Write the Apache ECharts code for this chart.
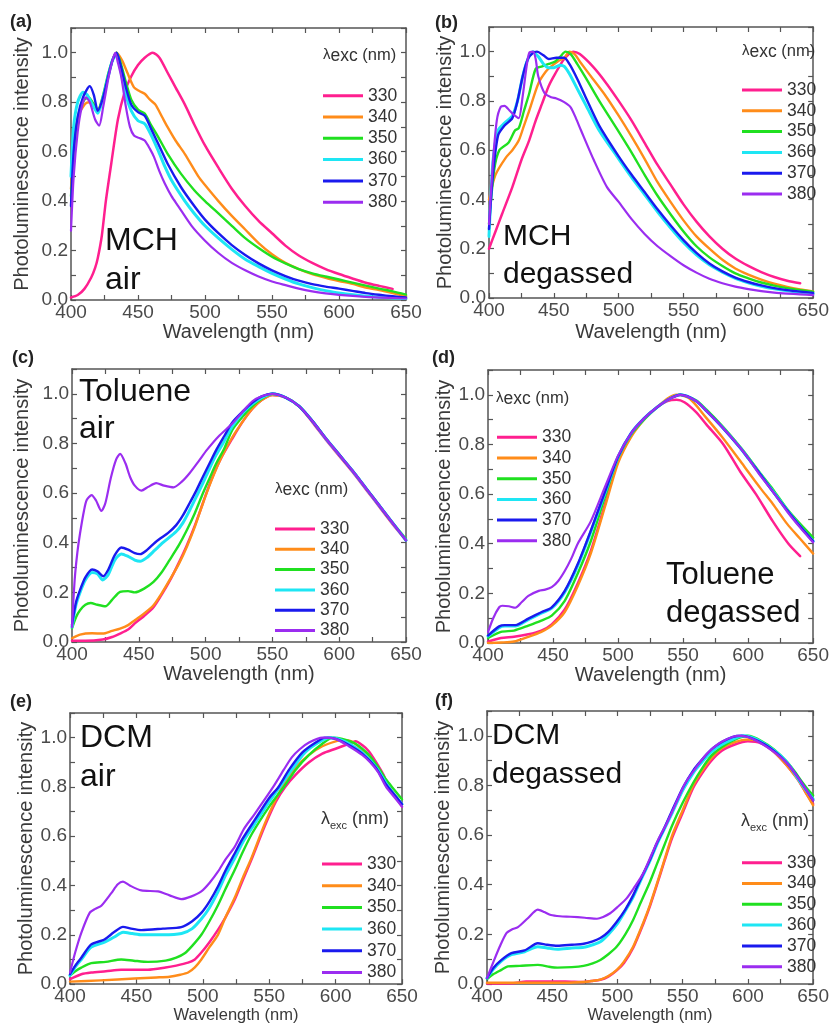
<!DOCTYPE html>
<html><head><meta charset="utf-8">
<script src="https://cdn.jsdelivr.net/npm/echarts@6/dist/echarts.min.js"></script>
<style>html,body{margin:0;padding:0;background:#fff}#c{width:832px;height:1025px}</style>
</head><body><div id="c"></div>
<script>
// ---------- tick labels / categories ----------
const EXC = ['330','340','350','360','370','380'];
const X_TICK_LABELS = [400,450,500,550,600,650];
const Y_TICK_LABELS = ['0.0','0.2','0.4','0.6','0.8','1.0'];

// ---------- (a) MCH air ----------
const a330 = [[400,0.01],[405,0.02],[410,0.045],[415,0.09],[418,0.13],[420,0.17],[423,0.26],[426,0.40],[430,0.55],[435,0.73],[440,0.84],[445,0.905],[450,0.95],[455,0.98],[461,1.0],[466,0.98],[472,0.92],[478,0.86],[485,0.79],[492,0.71],[500,0.625],[510,0.535],[520,0.45],[530,0.38],[540,0.32],[550,0.27],[560,0.22],[570,0.18],[580,0.15],[590,0.125],[600,0.105],[610,0.087],[620,0.07],[630,0.057],[640,0.045]];
const a340 = [[400,0.45],[403,0.65],[406,0.75],[410,0.79],[413,0.80],[416,0.79],[420,0.77],[424,0.82],[428,0.91],[431,0.97],[434,1.0],[438,0.97],[442,0.92],[447,0.86],[451,0.845],[455,0.834],[459,0.81],[463,0.79],[468,0.74],[472,0.70],[478,0.645],[485,0.59],[495,0.50],[500,0.465],[510,0.40],[520,0.34],[530,0.285],[540,0.23],[550,0.185],[560,0.15],[570,0.125],[580,0.105],[590,0.09],[600,0.077],[610,0.065],[620,0.05],[630,0.04],[640,0.028],[650,0.015]];
const a350 = [[400,0.42],[403,0.65],[406,0.76],[410,0.81],[413,0.82],[416,0.80],[420,0.77],[424,0.83],[428,0.92],[431,0.97],[434,1.0],[437,0.96],[441,0.88],[445,0.81],[450,0.77],[455,0.754],[460,0.705],[465,0.66],[472,0.592],[482,0.511],[492,0.444],[500,0.40],[510,0.35],[520,0.30],[530,0.25],[540,0.21],[550,0.175],[560,0.148],[570,0.125],[580,0.108],[590,0.095],[600,0.083],[610,0.07],[620,0.058],[630,0.046],[640,0.035],[650,0.022]];
const a360 = [[400,0.50],[402,0.70],[405,0.80],[409,0.84],[412,0.83],[416,0.79],[420,0.755],[424,0.82],[428,0.91],[431,0.97],[434,0.995],[437,0.93],[441,0.83],[445,0.765],[450,0.725],[455,0.713],[460,0.665],[465,0.605],[470,0.54],[475,0.484],[485,0.40],[492,0.35],[500,0.30],[510,0.25],[520,0.205],[530,0.165],[540,0.135],[550,0.108],[560,0.085],[570,0.065],[580,0.05],[590,0.038],[600,0.028],[620,0.015],[640,0.008],[650,0.006]];
const a370 = [[400,0.38],[402,0.60],[405,0.74],[409,0.82],[414,0.865],[417,0.83],[420,0.765],[424,0.82],[428,0.91],[431,0.97],[434,1.0],[437,0.95],[441,0.86],[445,0.79],[450,0.76],[455,0.745],[460,0.69],[465,0.633],[472,0.552],[482,0.457],[492,0.38],[500,0.325],[510,0.27],[520,0.222],[530,0.182],[540,0.148],[550,0.12],[560,0.097],[570,0.078],[580,0.064],[590,0.054],[600,0.046],[610,0.037],[620,0.028],[630,0.021],[640,0.015],[650,0.01]];
const a380 = [[400,0.28],[402,0.50],[405,0.68],[408,0.78],[411,0.82],[414,0.80],[418,0.73],[421,0.705],[424,0.78],[428,0.90],[431,0.97],[433,1.0],[435,0.96],[437.6,0.90],[441,0.78],[444,0.70],[447,0.665],[451,0.655],[455,0.645],[459,0.61],[462,0.578],[466,0.52],[470,0.471],[475,0.42],[480,0.38],[490,0.30],[500,0.24],[510,0.19],[520,0.15],[530,0.12],[540,0.095],[550,0.075],[560,0.06],[570,0.046],[580,0.035],[590,0.027],[600,0.021],[620,0.013],[640,0.008],[650,0.006]];

// ---------- (b) MCH degassed ----------
const b330 = [[400,0.20],[405,0.27],[410,0.34],[418,0.45],[425,0.56],[431,0.64],[436,0.72],[441,0.79],[446,0.86],[451,0.91],[458,0.97],[465,1.0],[470,0.99],[480,0.94],[490,0.875],[500,0.80],[510,0.72],[520,0.63],[530,0.54],[540,0.46],[550,0.38],[560,0.31],[570,0.25],[580,0.20],[590,0.16],[600,0.13],[610,0.105],[620,0.085],[630,0.07],[640,0.06]];
const b340 = [[400,0.40],[405,0.50],[413,0.57],[418,0.60],[423,0.64],[427,0.70],[431,0.76],[438,0.87],[444,0.92],[448,0.94],[453,0.96],[458,0.975],[462,1.0],[466,0.99],[470,0.96],[480,0.89],[490,0.82],[500,0.74],[510,0.655],[520,0.565],[530,0.47],[540,0.39],[550,0.315],[560,0.25],[570,0.20],[580,0.155],[590,0.12],[600,0.095],[610,0.075],[620,0.058],[630,0.045],[640,0.035],[650,0.027]];
const b350 = [[400,0.30],[404,0.52],[408,0.60],[415,0.63],[420,0.68],[423,0.69],[427,0.76],[431,0.83],[436,0.93],[441,0.94],[446,0.95],[451,0.96],[455,0.98],[459,1.0],[463,0.99],[468,0.95],[475,0.89],[485,0.80],[500,0.675],[510,0.59],[520,0.50],[530,0.415],[540,0.34],[550,0.27],[560,0.21],[570,0.165],[580,0.13],[590,0.10],[600,0.08],[610,0.063],[620,0.05],[630,0.04],[640,0.032],[650,0.026]];
const b360 = [[400,0.25],[403,0.55],[407,0.68],[412,0.71],[418,0.74],[422,0.80],[426,0.90],[430,0.97],[434,1.0],[438,0.98],[442,0.95],[446,0.935],[450,0.935],[455,0.945],[458,0.94],[462,0.91],[468,0.85],[475,0.78],[485,0.68],[500,0.565],[510,0.49],[520,0.42],[530,0.35],[540,0.285],[550,0.225],[560,0.175],[570,0.135],[580,0.105],[590,0.08],[600,0.062],[610,0.048],[620,0.037],[630,0.029],[640,0.023],[650,0.018]];
const b370 = [[400,0.28],[403,0.50],[407,0.66],[412,0.70],[418,0.73],[422,0.80],[426,0.90],[430,0.97],[434,0.995],[437,1.0],[442,0.985],[446,0.97],[452,0.975],[458,0.975],[462,0.95],[468,0.89],[475,0.81],[485,0.70],[500,0.575],[510,0.50],[520,0.43],[530,0.36],[540,0.295],[550,0.235],[560,0.183],[570,0.14],[580,0.108],[590,0.083],[600,0.065],[610,0.051],[620,0.04],[630,0.032],[640,0.026],[650,0.021]];
const b380 = [[400,0.30],[403,0.55],[406,0.72],[409,0.775],[412,0.78],[416,0.76],[420,0.74],[423,0.73],[426,0.82],[429,0.94],[431,0.995],[434,1.0],[436,0.97],[438,0.90],[443,0.83],[448,0.815],[452,0.81],[458,0.795],[463,0.774],[467,0.73],[471,0.68],[481,0.558],[491,0.45],[500,0.39],[510,0.32],[520,0.26],[530,0.21],[540,0.17],[550,0.133],[560,0.103],[570,0.078],[580,0.06],[590,0.046],[600,0.036],[610,0.028],[620,0.022],[630,0.018],[640,0.015],[650,0.012]];

// ---------- (c) Toluene air ----------
const c330 = [[400,0.005],[410,0.005],[423,0.01],[430,0.02],[436,0.034],[442,0.05],[447,0.075],[454,0.105],[461,0.14],[467,0.19],[473,0.245],[480,0.32],[486,0.39],[492,0.47],[498,0.56],[504,0.65],[511,0.735],[520,0.82],[528,0.89],[535,0.94],[542,0.975],[550,0.995],[560,0.985],[570,0.95],[580,0.885],[590,0.815],[600,0.75],[610,0.685],[620,0.615],[630,0.545],[640,0.475],[650,0.41]];
const c340 = [[400,0.015],[406,0.03],[415,0.035],[423,0.034],[430,0.045],[436,0.054],[442,0.068],[447,0.088],[454,0.115],[461,0.148],[467,0.195],[473,0.249],[480,0.315],[486,0.384],[492,0.465],[498,0.559],[504,0.645],[511,0.734],[520,0.825],[528,0.89],[535,0.94],[542,0.975],[550,0.995],[560,0.985],[570,0.95],[580,0.89],[590,0.82],[600,0.755],[610,0.69],[620,0.62],[630,0.55],[640,0.48],[650,0.41]];
const c350 = [[400,0.055],[403,0.10],[406,0.128],[410,0.15],[414,0.157],[419,0.15],[425,0.144],[430,0.17],[436,0.202],[442,0.205],[447,0.20],[454,0.215],[461,0.242],[467,0.28],[473,0.33],[480,0.39],[486,0.451],[492,0.52],[498,0.599],[503,0.66],[508,0.72],[514,0.78],[520,0.855],[528,0.91],[535,0.95],[542,0.98],[550,1.0],[560,0.985],[570,0.95],[580,0.89],[590,0.82],[600,0.755],[610,0.69],[620,0.62],[630,0.55],[640,0.48],[650,0.415]];
const c360 = [[400,0.06],[403,0.15],[406,0.20],[410,0.25],[415,0.28],[419,0.275],[423,0.25],[427,0.27],[432,0.33],[437,0.355],[442,0.345],[447,0.33],[451,0.325],[456,0.34],[462,0.37],[468,0.40],[478,0.445],[483,0.48],[488,0.53],[493,0.585],[498,0.64],[503,0.70],[508,0.755],[514,0.81],[520,0.87],[528,0.925],[535,0.96],[542,0.985],[550,1.0],[560,0.985],[570,0.95],[580,0.89],[590,0.82],[600,0.755],[610,0.69],[620,0.62],[630,0.55],[640,0.48],[650,0.41]];
const c370 = [[400,0.07],[403,0.16],[406,0.209],[410,0.26],[415,0.292],[419,0.285],[423.4,0.265],[427,0.29],[432,0.35],[437,0.381],[442,0.372],[447,0.358],[451,0.354],[456,0.37],[462,0.40],[466,0.417],[472,0.44],[478,0.471],[483,0.51],[488,0.559],[493,0.61],[498,0.666],[503,0.72],[508,0.774],[514,0.83],[520,0.885],[528,0.93],[535,0.965],[542,0.99],[550,1.0],[560,0.985],[570,0.95],[580,0.89],[590,0.82],[600,0.755],[610,0.69],[620,0.62],[630,0.55],[640,0.48],[650,0.41]];
const c380 = [[400,0.06],[402,0.25],[404,0.36],[406,0.437],[409,0.53],[411,0.572],[414.7,0.592],[418,0.57],[422,0.528],[425,0.56],[429,0.66],[433,0.735],[436,0.758],[440,0.72],[443.4,0.666],[447,0.63],[452,0.61],[457,0.625],[463,0.64],[469,0.63],[476,0.623],[482,0.645],[488,0.68],[495,0.73],[501,0.774],[510,0.83],[520,0.88],[528,0.93],[535,0.97],[542,0.99],[550,1.0],[560,0.985],[570,0.95],[580,0.89],[590,0.82],[600,0.755],[610,0.69],[620,0.62],[630,0.55],[640,0.48],[650,0.41]];

// ---------- (d) Toluene degassed ----------
const d330 = [[400,0.005],[410,0.02],[420,0.025],[431,0.035],[441,0.05],[449,0.075],[459,0.135],[469,0.24],[479,0.37],[490,0.56],[500,0.74],[510,0.84],[520,0.905],[530,0.95],[538,0.975],[545,0.98],[551,0.97],[560,0.93],[568,0.88],[581,0.80],[594,0.69],[606,0.60],[619,0.49],[631,0.40],[640,0.35]];
const d340 = [[400,0.0],[410,0.002],[420,0.006],[431,0.025],[441,0.045],[449,0.07],[459,0.125],[469,0.23],[479,0.36],[490,0.55],[500,0.725],[510,0.83],[520,0.90],[530,0.95],[538,0.985],[545,1.0],[555,0.985],[568,0.906],[580,0.83],[594,0.733],[600,0.69],[610,0.62],[619,0.56],[630,0.48],[640,0.42],[650,0.36]];
const d350 = [[400,0.02],[410,0.045],[420,0.05],[431,0.07],[441,0.09],[449,0.11],[459,0.17],[469,0.28],[479,0.41],[490,0.59],[500,0.745],[510,0.84],[520,0.90],[530,0.95],[540,0.985],[548,1.0],[560,0.978],[568,0.94],[580,0.875],[594,0.79],[600,0.75],[610,0.68],[619,0.62],[630,0.54],[640,0.48],[650,0.425]];
const d360 = [[400,0.028],[408.6,0.062],[413,0.068],[421,0.068],[431,0.094],[441,0.12],[449,0.14],[459,0.205],[469,0.312],[479,0.447],[490,0.605],[500,0.75],[510,0.845],[520,0.905],[530,0.95],[540,0.985],[548,1.0],[560,0.975],[568,0.935],[580,0.87],[594,0.786],[600,0.745],[610,0.675],[619,0.612],[630,0.535],[640,0.47],[650,0.41]];
const d370 = [[400,0.03],[408.6,0.067],[413,0.072],[421,0.072],[431,0.098],[441,0.124],[449,0.144],[459,0.21],[469,0.318],[479,0.452],[490,0.61],[500,0.75],[510,0.845],[520,0.905],[530,0.95],[540,0.985],[548,1.0],[560,0.975],[568,0.935],[580,0.87],[594,0.786],[600,0.745],[610,0.675],[619,0.61],[630,0.535],[640,0.47],[650,0.41]];
const d380 = [[400,0.044],[404,0.10],[408.6,0.144],[411,0.15],[416,0.148],[421,0.142],[426,0.165],[431,0.19],[439,0.21],[444,0.215],[449,0.225],[454,0.25],[459,0.29],[464,0.34],[469,0.40],[479,0.49],[490,0.63],[500,0.755],[510,0.845],[520,0.905],[530,0.95],[540,0.985],[548,1.0],[560,0.975],[568,0.935],[580,0.87],[594,0.786],[600,0.745],[610,0.67],[619,0.61],[630,0.53],[640,0.465],[650,0.405]];

// ---------- (e) DCM air ----------
const e330 = [[400,0.02],[408.5,0.04],[416,0.047],[427,0.052],[438.6,0.058],[458.7,0.058],[472,0.067],[480,0.075],[488.9,0.087],[494,0.10],[498.9,0.128],[505,0.17],[511.4,0.22],[517,0.27],[524,0.342],[530,0.42],[536.5,0.503],[546.6,0.64],[555,0.74],[562,0.80],[570,0.85],[580,0.90],[590,0.935],[600,0.955],[610,0.975],[615,0.985],[620,0.97],[625,0.945],[630,0.905],[636,0.85],[640,0.80],[645,0.76],[650,0.72]];
const e340 = [[400,0.01],[423,0.015],[448.7,0.023],[465,0.027],[475,0.03],[483,0.038],[488.9,0.047],[494,0.068],[498.9,0.10],[505,0.15],[511.4,0.20],[517,0.27],[524,0.35],[530,0.43],[536.5,0.51],[546.6,0.65],[555,0.75],[562,0.82],[570,0.88],[580,0.93],[590,0.965],[600,0.985],[605,0.99],[612,0.985],[620,0.95],[630,0.89],[636,0.84],[640,0.80],[645,0.765],[650,0.73]];
const e350 = [[400,0.035],[404,0.052],[408.5,0.067],[416,0.085],[427,0.09],[438.6,0.10],[448,0.095],[458.7,0.09],[472,0.095],[480,0.107],[486.4,0.125],[492,0.155],[498.9,0.20],[505,0.255],[511.4,0.32],[517,0.385],[524,0.463],[530,0.535],[537,0.61],[550,0.72],[561,0.80],[570,0.87],[580,0.93],[590,0.975],[598,1.0],[605,0.995],[615,0.975],[625,0.93],[632,0.88],[638,0.83],[644,0.79],[650,0.75]];
const e360 = [[400,0.035],[404,0.07],[408.5,0.10],[416,0.15],[426,0.17],[433,0.19],[440,0.21],[447,0.205],[454,0.20],[470,0.20],[484,0.205],[492,0.225],[499,0.265],[505,0.31],[511,0.37],[517,0.44],[524,0.51],[530,0.575],[539,0.65],[550,0.74],[558,0.80],[567,0.87],[577,0.94],[587,0.98],[595,1.0],[602,0.995],[612,0.97],[622,0.93],[631,0.875],[638,0.815],[644,0.77],[650,0.73]];
const e370 = [[400,0.04],[404,0.075],[408.5,0.107],[416,0.161],[426,0.181],[433,0.21],[439.9,0.232],[446,0.225],[453.7,0.219],[470,0.225],[483.8,0.231],[492,0.255],[498.9,0.289],[505,0.335],[511.4,0.396],[517,0.46],[524,0.53],[530,0.59],[539,0.665],[550,0.755],[557,0.80],[565,0.87],[575,0.94],[585,0.98],[592,1.0],[600,0.995],[610,0.97],[620,0.935],[630,0.88],[638,0.81],[644,0.77],[650,0.73]];
const e380 = [[400,0.047],[404,0.13],[408.5,0.208],[414.8,0.289],[419,0.305],[423.6,0.318],[431.1,0.369],[436,0.405],[439.9,0.416],[445,0.40],[453.7,0.38],[466.3,0.376],[475,0.36],[483.8,0.345],[491,0.355],[498.9,0.376],[505,0.41],[511.4,0.456],[517,0.505],[524,0.557],[531,0.63],[539,0.69],[553,0.80],[561,0.87],[567,0.92],[573,0.953],[580,0.98],[590,1.0],[600,0.995],[610,0.965],[620,0.93],[626,0.90],[632,0.86],[638,0.80],[644,0.76],[650,0.72]];

// ---------- (f) DCM degassed ----------
const f330 = [[400,0.002],[420,0.003],[430,0.01],[460,0.01],[474,0.008],[480,0.012],[486.9,0.017],[493,0.03],[499.5,0.055],[505,0.085],[512,0.145],[520,0.245],[525,0.315],[530,0.395],[536,0.495],[542,0.59],[550,0.69],[558,0.79],[565,0.85],[572,0.90],[580,0.94],[590,0.965],[600,0.978],[610,0.97],[620,0.935],[630,0.88],[636,0.84],[640,0.81],[645,0.765],[650,0.725]];
const f340 = [[400,0.005],[460,0.005],[474,0.008],[480,0.012],[486.9,0.018],[493,0.032],[499.5,0.057],[505,0.09],[512,0.15],[520,0.25],[525,0.32],[530,0.40],[536,0.50],[542,0.60],[550,0.70],[558,0.80],[565,0.86],[572,0.91],[580,0.95],[590,0.975],[600,0.985],[610,0.975],[620,0.935],[630,0.88],[636,0.84],[640,0.81],[645,0.765],[650,0.72]];
const f350 = [[400,0.02],[405,0.04],[411,0.057],[416,0.071],[425,0.073],[439,0.077],[447,0.07],[454,0.066],[465,0.068],[474,0.073],[481,0.083],[486.9,0.097],[493,0.12],[499.5,0.151],[506,0.20],[512,0.258],[518,0.33],[524.8,0.41],[530,0.48],[536,0.56],[542,0.64],[550,0.73],[558,0.81],[565,0.87],[572,0.92],[580,0.955],[590,0.985],[600,1.0],[610,0.98],[620,0.945],[630,0.895],[636,0.855],[640,0.825],[645,0.79],[650,0.76]];
const f360 = [[400,0.024],[405,0.06],[411,0.092],[418.7,0.118],[428.8,0.13],[438.9,0.15],[446,0.145],[454,0.14],[465,0.145],[474.2,0.148],[481,0.158],[486.9,0.17],[493,0.20],[499.5,0.24],[506,0.295],[512,0.35],[518,0.42],[524.8,0.495],[530,0.56],[536,0.625],[542,0.69],[550,0.78],[558,0.85],[565,0.895],[572,0.935],[580,0.965],[590,0.99],[597,1.0],[605,0.99],[615,0.96],[625,0.92],[632,0.88],[638,0.83],[644,0.785],[650,0.745]];
const f370 = [[400,0.024],[405,0.065],[411.1,0.097],[418.7,0.124],[428.8,0.135],[438.9,0.164],[446,0.158],[454,0.154],[465,0.158],[474.2,0.162],[481,0.172],[486.9,0.185],[493,0.21],[499.5,0.251],[506,0.30],[512.1,0.358],[518,0.425],[524.8,0.50],[530,0.565],[536,0.63],[542,0.70],[550,0.79],[558,0.86],[565,0.905],[572,0.945],[580,0.975],[588,0.995],[595,1.0],[603,0.99],[613,0.965],[622,0.93],[630,0.89],[636,0.85],[640,0.82],[645,0.78],[650,0.74]];
const f380 = [[400,0.024],[405,0.09],[409.8,0.151],[414.9,0.205],[419,0.22],[423.7,0.229],[431.3,0.265],[438.9,0.30],[444,0.29],[449,0.278],[456,0.273],[464.1,0.271],[475,0.267],[484.3,0.263],[489,0.27],[494.4,0.285],[500,0.31],[507,0.345],[513,0.39],[519.7,0.445],[526,0.52],[532,0.59],[538,0.65],[545,0.73],[552,0.81],[560,0.87],[568,0.925],[578,0.97],[588,0.995],[593,1.0],[600,0.995],[610,0.97],[620,0.935],[630,0.89],[636,0.85],[640,0.82],[645,0.78],[650,0.74]];

// ---------- styling / layout (not data) ----------
const COLORS = {'330':'#ff1f8f','340':'#ff8c1a','350':'#20e020','360':'#1ee6f4','370':'#1a1aee','380':'#9b2df0'};
const WIDTHS = {'330':2.5,'340':2.4,'350':2.4,'360':3.0,'370':2.4,'380':2.2};
const FONT = 'Liberation Sans, Arial, Helvetica, sans-serif';
const TITLE_RICH_BIG = {
  l:{fontSize:15,lineHeight:18,verticalAlign:'top',fontFamily:FONT,color:'#333'},
  s:{fontSize:17.5,lineHeight:17,padding:[7,0,0,0],verticalAlign:'bottom',fontFamily:FONT,color:'#333'},
  n:{fontSize:16.5,lineHeight:18,verticalAlign:'top',fontFamily:FONT,color:'#333'}
};
const TITLE_RICH_SMALL = {
  l:{fontSize:18,lineHeight:21,verticalAlign:'top',fontFamily:FONT,color:'#333'},
  s:{fontSize:11,lineHeight:11,padding:[12,0,0,0],verticalAlign:'bottom',fontFamily:FONT,color:'#333'},
  n:{fontSize:18,lineHeight:21,verticalAlign:'top',fontFamily:FONT,color:'#333'}
};

const PANELS = [
  {letter:'(a)', solvent:'MCH\nair', data:[a330,a340,a350,a360,a370,a380],
   grid:{left:71,top:28,width:335,height:272}, letterPos:[10,13], solventPos:[105,222], solventFont:32, solventLH:39,
   legendPos:[323,86.7], legendGap:3.3, titlePos:[323,40], rich:TITLE_RICH_BIG, xNameSize:20, xNameGap:22, yNameGap:39},
  {letter:'(b)', solvent:'MCH\ndegassed', data:[b330,b340,b350,b360,b370,b380],
   grid:{left:489,top:27,width:329,height:271}, letterPos:[435,14], solventPos:[503,218], solventFont:30, solventLH:38,
   legendPos:[742,81], legendGap:2.8, titlePos:[742,36], rich:TITLE_RICH_BIG, xNameSize:20, xNameGap:24, yNameGap:32},
  {letter:'(c)', solvent:'Toluene\nair', data:[c330,c340,c350,c360,c370,c380],
   grid:{left:72,top:369,width:334,height:273}, letterPos:[12,349], solventPos:[79,373], solventFont:32, solventLH:37.5,
   legendPos:[275,520], legendGap:2.3, titlePos:[275,474], rich:TITLE_RICH_BIG, xNameSize:20, xNameGap:22, yNameGap:40},
  {letter:'(d)', solvent:'Toluene\ndegassed', data:[d330,d340,d350,d360,d370,d380],
   grid:{left:488,top:370,width:330,height:273}, letterPos:[432,349], solventPos:[666,557], solventFont:31, solventLH:37.5,
   legendPos:[497,428.3], legendGap:2.7, titlePos:[496,383], rich:TITLE_RICH_BIG, xNameSize:20, xNameGap:21, yNameGap:33},
  {letter:'(e)', solvent:'DCM\nair', data:[e330,e340,e350,e360,e370,e380],
   grid:{left:70,top:713,width:332,height:272}, letterPos:[10,693], solventPos:[80,719], solventFont:32, solventLH:38.5,
   legendPos:[322,855], legendGap:3.7, titlePos:[321,808], rich:TITLE_RICH_SMALL, xNameSize:16.5, xNameGap:21, yNameGap:34},
  {letter:'(f)', solvent:'DCM\ndegassed', data:[f330,f340,f350,f360,f370,f380],
   grid:{left:487,top:711,width:330,height:273}, letterPos:[435,692], solventPos:[492,717], solventFont:30, solventLH:38.3,
   legendPos:[742,853.7], legendGap:2.8, titlePos:[741,810], rich:TITLE_RICH_SMALL, xNameSize:16.5, xNameGap:23, yNameGap:34}
];

const AXIS_COLOR = '#555';
function xLabel(v){ return X_TICK_LABELS.indexOf(Math.round(v)) >= 0 ? String(Math.round(v)) : ''; }
function yLabel(v){ const s = (Math.round(v*10)/10).toFixed(1); return Y_TICK_LABELS.indexOf(s) >= 0 ? s : ''; }

const grids = [], xAxes = [], yAxes = [], series = [], legends = [], graphics = [];
PANELS.forEach((p, i) => {
  grids.push(Object.assign({}, p.grid));
  const common = {
    type:'value', gridIndex:i, splitLine:{show:false},
    axisLine:{show:true, onZero:false, lineStyle:{color:AXIS_COLOR, width:1.5}},
    axisTick:{show:true, inside:true, length:5, lineStyle:{color:AXIS_COLOR, width:1.2}}
  };
  xAxes.push(Object.assign({}, common, {
    position:'bottom', min:400, max:650, interval:25,
    axisLabel:{formatter:xLabel, fontSize:19, color:'#4a4a4a', margin:3, fontFamily:FONT},
    name:'Wavelength (nm)', nameLocation:'middle', nameGap:p.xNameGap,
    nameTextStyle:{fontSize:p.xNameSize, color:'#3a3a3a', fontFamily:FONT}
  }));
  xAxes.push(Object.assign({}, common, {position:'top', min:400, max:650, interval:25, axisLabel:{show:false}}));
  yAxes.push(Object.assign({}, common, {
    position:'left', min:0, max:1.1, interval:0.1,
    axisLabel:{formatter:yLabel, fontSize:19, color:'#4a4a4a', margin:3, fontFamily:FONT},
    name:'Photoluminescence intensity', nameLocation:'middle', nameGap:p.yNameGap,
    nameTextStyle:{fontSize:20, color:'#3a3a3a', fontFamily:FONT}
  }));
  yAxes.push(Object.assign({}, common, {position:'right', min:0, max:1.1, interval:0.1, axisLabel:{show:false}}));

  EXC.forEach((w, k) => {
    series.push({
      type:'line', name:w, xAxisIndex:2*i, yAxisIndex:2*i, data:p.data[k],
      showSymbol:false, smooth:0.25, clip:true,
      lineStyle:{color:COLORS[w], width:WIDTHS[w], join:'round', cap:'round'}, itemStyle:{color:COLORS[w]},
      emphasis:{disabled:true}, silent:true
    });
  });

  legends.push({
    orient:'vertical', left:p.legendPos[0], top:p.legendPos[1], padding:0,
    itemWidth:40, itemHeight:3, itemGap:p.legendGap, icon:'rect', data:EXC, selectedMode:false,
    itemStyle:{borderWidth:0},
    textStyle:{fontSize:17.5, lineHeight:18, color:'#333', fontFamily:FONT}
  });

  graphics.push({type:'text', left:p.letterPos[0], top:p.letterPos[1], z:100,
    style:{text:p.letter, fontSize:18, fontWeight:'bold', lineHeight:18, fill:'#222', fontFamily:FONT}});
  graphics.push({type:'text', left:p.solventPos[0], top:p.solventPos[1], z:100,
    style:{text:p.solvent, fontSize:p.solventFont, lineHeight:p.solventLH, fill:'#111', fontFamily:FONT}});
  graphics.push({type:'text', left:p.titlePos[0], top:p.titlePos[1], z:100,
    style:{text:'{l|λ}{s|exc}{n| (nm)}', rich:p.rich, fill:'#333', fontFamily:FONT}});
});

const chart = echarts.init(document.getElementById('c'), null, {renderer:'canvas'});
chart.setOption({
  animation:false, backgroundColor:'#fff',
  textStyle:{fontFamily:FONT},
  grid:grids, xAxis:xAxes, yAxis:yAxes, series:series, legend:legends, graphic:graphics
});
</script></body></html>
